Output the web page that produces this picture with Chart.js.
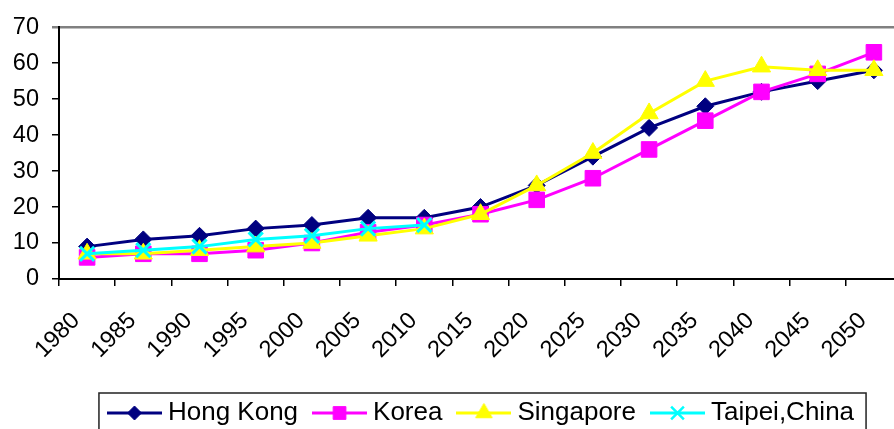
<!DOCTYPE html>
<html>
<head>
<meta charset="utf-8">
<script src="https://cdn.jsdelivr.net/npm/chart.js@4/dist/chart.umd.min.js"></script>
<style>
  html, body { margin: 0; padding: 0; overflow: hidden; background: #fff; }
</style>
</head>
<body>
<canvas id="chart" width="960" height="450"></canvas>
<script>
const years = ["1980", "1985", "1990", "1995", "2000", "2005", "2010", "2015",
  "2020", "2025", "2030", "2035", "2040", "2045", "2050"];
const hongKong = [9, 11, 12, 14, 15, 17, 17, 20, 26, 34, 42, 48, 52, 55, 58];
const korea = [6, 7, 7, 8, 10, 13, 15, 18, 22, 28, 36, 44, 52, 57, 63];
const singapore = [7, 7, 8, 9, 10, 12, 14, 18, 26, 35, 46, 55, 59, 58, 58];
const taipei = [7, 8, 9, 11, 12, 14, 15, null, null, null, null, null, null, null, null];
const yTicks = [0, 10, 20, 30, 40, 50, 60, 70];

const FONT = 'Arial, "Liberation Sans", sans-serif';

// legend sample: short line with the marker in the middle
function legendIcon(color, style, radius, bw) {
  const c = document.createElement("canvas");
  c.width = 55;
  c.height = 26;
  const g = c.getContext("2d");
  g.strokeStyle = color;
  g.lineWidth = 3;
  g.beginPath();
  g.moveTo(0, 13);
  g.lineTo(55, 13);
  g.stroke();
  g.fillStyle = color;
  g.lineWidth = bw;
  Chart.helpers.drawPoint(g, { pointStyle: style, radius: radius, borderWidth: bw, rotation: 0 }, 27.5, 13);
  return c;
}

const icons = [
  legendIcon("#000080", "rectRot", 7, 1),
  legendIcon("#FF00FF", "rect", 9, 1),
  legendIcon("#FFFF00", "triangle", 9.5, 1),
  legendIcon("#00FFFF", "crossRot", 9, 2.5),
];

// moves the legend to where the reference has it and frames it
const legendBox = {
  id: "legendBox",
  afterLayout(chart) {
    const lg = chart.legend;
    const h = lg.bottom - lg.top;
    lg.left = 4;
    lg.right = chart.width + 4;
    lg.top = 413 - 13 - 21;
    lg.bottom = lg.top + h;
  },
  afterDraw(chart) {
    const boxes = chart.legend.legendHitBoxes;
    if (!boxes || !boxes.length) return;
    const first = boxes[0];
    const last = boxes[boxes.length - 1];
    const left = first.left - 15;
    const right = last.left + last.width + 12;
    const mid = first.top + first.height / 2;
    const c = chart.ctx;
    c.save();
    c.strokeStyle = "#222";
    c.lineWidth = 1.5;
    c.strokeRect(left, mid - 20, right - left, 42);
    c.restore();
  },
};

new Chart(document.getElementById("chart"), {
  type: "line",
  data: {
    labels: years,
    datasets: [
      {
        label: "Hong Kong",
        data: hongKong,
        borderColor: "#000080",
        backgroundColor: "#000080",
        borderWidth: 3,
        pointStyle: "rectRot",
        pointRadius: 8.5,
        pointBorderWidth: 1,
        order: 4,
      },
      {
        label: "Korea",
        data: korea,
        borderColor: "#FF00FF",
        backgroundColor: "#FF00FF",
        borderWidth: 3,
        pointStyle: "rect",
        pointRadius: 11,
        pointBorderWidth: 1,
        order: 3,
      },
      {
        label: "Singapore",
        data: singapore,
        borderColor: "#FFFF00",
        backgroundColor: "#FFFF00",
        borderWidth: 3,
        pointStyle: "triangle",
        pointRadius: 10.5,
        pointBorderWidth: 1,
        order: 2,
      },
      {
        label: "Taipei,China",
        data: taipei,
        borderColor: "#00FFFF",
        backgroundColor: "#00FFFF",
        borderWidth: 3,
        pointStyle: "crossRot",
        pointRadius: 10,
        pointBorderWidth: 3,
        order: 1,
      },
    ],
  },
  options: {
    responsive: false,
    animation: false,
    layout: { padding: { top: 24, right: 58, left: 0, bottom: 0 } },
    elements: { line: { tension: 0 } },
    scales: {
      x: {
        offset: true,
        grid: { offset: true, drawOnChartArea: false, tickLength: 7, color: "#000", lineWidth: 1.5 },
        border: { color: "#000", width: 2 },
        ticks: {
          color: "#000",
          font: { family: FONT, size: 23.5 },
          minRotation: 45,
          maxRotation: 45,
          autoSkip: false,
          padding: 21,
          labelOffset: -11,
        },
        afterFit(s) {
          s.height = s.chart.height - s.chart.legend.height - 279;
        },
      },
      y: {
        min: 0,
        max: 70,
        afterBuildTicks(s) {
          s.ticks = yTicks.map((v) => ({ value: v }));
        },
        afterFit(s) {
          s.width = 59;
        },
        grid: {
          drawOnChartArea: true,
          tickLength: 7,
          color: (c) => (c.tick && c.tick.value === 70 ? "#808080" : "rgba(0,0,0,0)"),
          tickColor: (c) => (c.tick && c.tick.value === 70 ? "#808080" : "#000"),
          lineWidth: (c) => (c.tick && c.tick.value === 70 ? 2.5 : 1.5),
        },
        border: { color: "#000", width: 2 },
        ticks: {
          color: "#000",
          font: { family: FONT, size: 23.5 },
          padding: 13,
        },
      },
    },
    plugins: {
      tooltip: { enabled: false },
      legend: {
        position: "bottom",
        labels: {
          color: "#000",
          font: { family: FONT, size: 26 },
          usePointStyle: true,
          pointStyleWidth: 41,
          boxHeight: 26,
          padding: 21,
          generateLabels: (chart) =>
            chart.data.datasets.map((ds, i) => ({
              text: ds.label,
              pointStyle: icons[i],
              fillStyle: ds.backgroundColor,
              strokeStyle: ds.borderColor,
              lineWidth: 0,
              hidden: false,
              datasetIndex: i,
            })),
        },
      },
    },
  },
  plugins: [legendBox],
});
</script>
</body>
</html>
